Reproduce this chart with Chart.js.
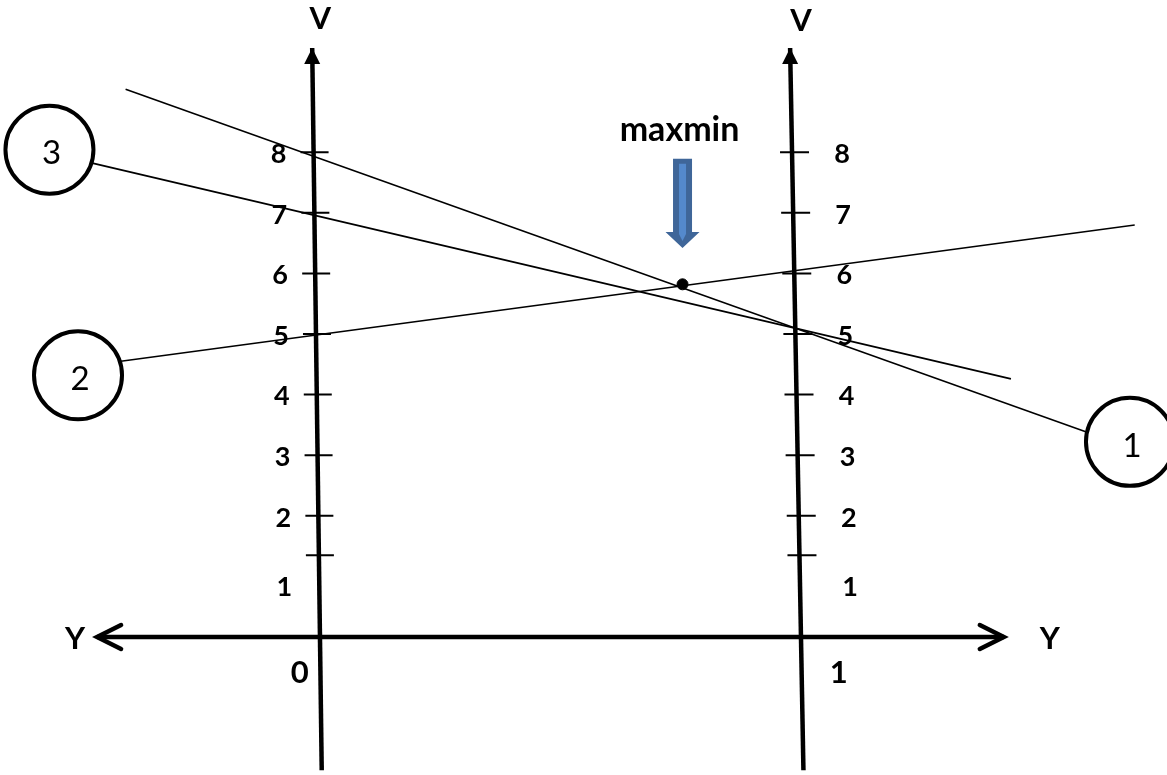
<!DOCTYPE html>
<html>
<head>
<meta charset="utf-8">
<title>maxmin</title>
<script src="https://cdn.jsdelivr.net/npm/chart.js@4/dist/chart.umd.min.js"></script>
<style>
  html, body { margin: 0; padding: 0; background: #fff; }
  #wrap { width: 1167px; height: 775px; }
</style>
</head>
<body>
<div id="wrap"><canvas id="chart" width="1167" height="775"></canvas></div>
<script>
// Strategy lines (x = Y, y = V), start and end points
const lineNames = ["1", "2", "3"];
const lineStartY = [-0.40, -0.41, -0.47];
const lineStartV = [9.04, 4.55, 7.82];
const lineEndY = [1.62, 1.72, 1.46];
const lineEndV = [3.38, 6.80, 4.26];

// Circled labels at the end of each line
const circleY = [1.71, -0.50, -0.56];
const circleV = [3.22, 4.32, 8.04];

// maxmin point
const maxminY = 0.77;
const maxminV = 5.82;

// Vertical axes (slightly tilted, as drawn): [top, bottom]
const axisV = [9.72, -2.20];
const leftAxisY = [-0.008, 0.012];
const rightAxisY = [0.996, 1.024];

// Horizontal axis
const hAxisY = [-0.46, 1.445];

// Ticks and tick labels on both vertical axes
const tickValues = [8, 7, 6, 5, 4, 3, 2, 1.35];
const tickLabels = ["8", "7", "6", "5", "4", "3", "2", "1"];
const labelValues = [8, 7, 6, 5, 4, 3, 2, 0.85];

// Y-axis end labels
const xTickLabels = ["0", "1"];
const xTickValues = [-0.034, 1.098];

// Blue arrow: top and tip in V
const arrowV = [7.89, 6.42];

// Helper: x of a tilted axis at a given V
function axisYAt(ax, v) {
  const t = (v - axisV[0]) / (axisV[1] - axisV[0]);
  return ax[0] + (ax[1] - ax[0]) * t;
}

const diagram = {
  id: "diagram",
  afterDatasetsDraw(chart) {
    const { ctx, scales: { x, y } } = chart;
    const px = v => x.getPixelForValue(v);
    const py = v => y.getPixelForValue(v);
    ctx.save();
    ctx.fillStyle = "#000";
    ctx.strokeStyle = "#000";

    // arrowheads on vertical axes
    [leftAxisY, rightAxisY].forEach(ax => {
      const tx = px(ax[0]), ty = py(axisV[0]);
      ctx.beginPath();
      ctx.moveTo(tx, ty);
      ctx.lineTo(tx - 8, ty + 16);
      ctx.lineTo(tx + 8, ty + 16);
      ctx.closePath();
      ctx.fill();
    });

    // chevrons on horizontal axis
    ctx.lineWidth = 4.5;
    ctx.lineCap = "round";
    ctx.lineJoin = "miter";
    const hy = py(0);
    [[px(hAxisY[0]), 1], [px(hAxisY[1]), -1]].forEach(([tx, d]) => {
      ctx.beginPath();
      ctx.moveTo(tx + d * 24, hy - 12);
      ctx.lineTo(tx, hy);
      ctx.lineTo(tx + d * 24, hy + 12);
      ctx.stroke();
    });

    // tick marks
    ctx.lineWidth = 2;
    ctx.lineCap = "butt";
    tickValues.forEach(v => {
      const ty = py(v);
      const lx = px(axisYAt(leftAxisY, v));
      const rx = px(axisYAt(rightAxisY, v));
      ctx.beginPath();
      ctx.moveTo(lx - 13, ty); ctx.lineTo(lx + 15, ty);
      ctx.moveTo(rx - 12, ty); ctx.lineTo(rx + 17, ty);
      ctx.stroke();
    });

    // tick labels
    ctx.textAlign = "center";
    ctx.textBaseline = "middle";
    ctx.font = "bold 27px Lato";
    labelValues.forEach((v, i) => {
      const ty = py(v);
      ctx.fillText(tickLabels[i], px(axisYAt(leftAxisY, v)) - 35, ty + 2);
      ctx.fillText(tickLabels[i], px(axisYAt(rightAxisY, v)) + 50, ty + 2);
    });

    // axis names
    ctx.font = "bold 31px Lato";
    ctx.fillText("V", px(leftAxisY[0]) + 8, py(axisV[0]) - 29);
    ctx.fillText("V", px(rightAxisY[0]) + 11, py(axisV[0]) - 27);
    ctx.fillText("Y", px(hAxisY[0]) - 22, hy + 2);
    ctx.fillText("Y", px(hAxisY[1]) + 46, hy + 2);
    xTickValues.forEach((v, i) => ctx.fillText(xTickLabels[i], px(v), hy + 36));

    // maxmin caption and blue arrow
    ctx.font = "bold 34px Lato";
    ctx.fillText("maxmin", px(maxminY) - 3, py(arrowV[0]) - 29);
    const cx = px(maxminY), top = py(arrowV[0]), tip = py(arrowV[1]);
    const base = tip - 16;
    ctx.beginPath();
    ctx.moveTo(cx - 9.5, top);
    ctx.lineTo(cx + 9.5, top);
    ctx.lineTo(cx + 9.5, base);
    ctx.lineTo(cx + 17, base);
    ctx.lineTo(cx, tip);
    ctx.lineTo(cx - 17, base);
    ctx.lineTo(cx - 9.5, base);
    ctx.closePath();
    ctx.fillStyle = "#3f6699";
    ctx.fill();
    ctx.beginPath();
    ctx.moveTo(cx - 3.5, top + 5);
    ctx.lineTo(cx + 3.5, top + 5);
    ctx.lineTo(cx + 3.5, base + 2);
    ctx.lineTo(cx, base + 9);
    ctx.lineTo(cx - 3.5, base + 2);
    ctx.closePath();
    ctx.fillStyle = "#5489cc";
    ctx.fill();

    // circle labels
    ctx.fillStyle = "#000";
    ctx.font = "33px Lato";
    circleY.forEach((c, i) => ctx.fillText(lineNames[i], px(c) + 2, py(circleV[i]) + 4));
    ctx.restore();
  }
};

const lineSets = lineNames.map((n, i) => ({
  label: "Strategy " + n,
  data: [{ x: lineStartY[i], y: lineStartV[i] }, { x: lineEndY[i], y: lineEndV[i] }],
  showLine: true,
  borderColor: "#000",
  borderWidth: 1.6,
  pointRadius: 0,
  order: 3
}));

const axisSets = [leftAxisY, rightAxisY].map(ax => ({
  label: "V axis",
  data: [{ x: ax[0], y: axisV[0] }, { x: ax[1], y: axisV[1] }],
  showLine: true,
  borderColor: "#000",
  borderWidth: 4.5,
  pointRadius: 0,
  order: 4
}));

const hAxisSet = {
  label: "Y axis",
  data: [{ x: hAxisY[0], y: 0 }, { x: hAxisY[1], y: 0 }],
  showLine: true,
  borderColor: "#000",
  borderWidth: 4.5,
  pointRadius: 0,
  order: 4
};

const circleSet = {
  label: "labels",
  data: circleY.map((c, i) => ({ x: c, y: circleV[i] })),
  pointRadius: 44,
  pointBorderWidth: 4,
  pointBorderColor: "#000",
  pointBackgroundColor: "#fff",
  order: 1
};

const dotSet = {
  label: "maxmin",
  data: [{ x: maxminY, y: maxminV }],
  pointRadius: 5.5,
  pointBackgroundColor: "#000",
  pointBorderColor: "#000",
  order: 2
};

new Chart(document.getElementById("chart"), {
  type: "scatter",
  data: { datasets: [circleSet, dotSet, ...lineSets, ...axisSets, hAxisSet] },
  options: {
    responsive: false,
    animation: false,
    events: [],
    layout: { padding: 0, autoPadding: false },
    plugins: { legend: { display: false }, tooltip: { enabled: false } },
    scales: {
      x: { type: "linear", min: -0.6639, max: 1.7878, display: false },
      y: { type: "linear", min: -2.2772, max: 10.5116, display: false }
    }
  },
  plugins: [diagram]
});
</script>
</body>
</html>
